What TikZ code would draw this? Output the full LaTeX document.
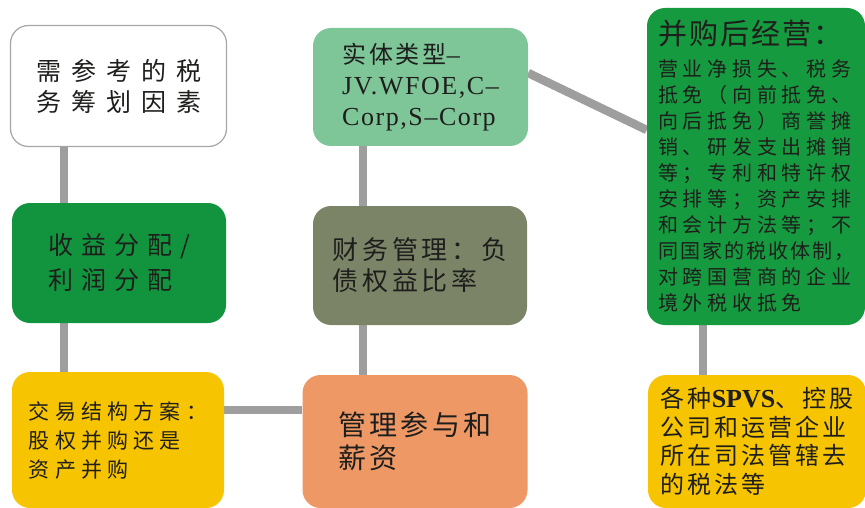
\documentclass[tikz,border=0pt]{standalone}
\usepackage{fontspec}
\setmainfont{Liberation Serif}
\newfontfamily\cjk{Noto Sans CJK SC}
\newcommand\lsp[1]{\addfontfeatures{LetterSpace=#1}}
\usetikzlibrary{backgrounds,calc}
\definecolor{cA}{RGB}{255,255,255}
\definecolor{cB}{RGB}{18,148,62}
\definecolor{cC}{RGB}{246,196,0}
\definecolor{cD}{RGB}{238,152,102}
\definecolor{cE}{RGB}{126,197,152}
\definecolor{cF}{RGB}{124,132,104}
\definecolor{cG}{RGB}{22,154,64}
\definecolor{link}{RGB}{158,158,158}
\definecolor{ink}{RGB}{30,30,28}
\tikzset{
  box/.style={rectangle, rounded corners=18pt, inner sep=0pt, align=left, text=ink},
  conn/.style={draw=link, line width=8.5pt}
}
\begin{document}
\begin{tikzpicture}[x=1pt,y=-1pt]
\useasboundingbox (0,0) rectangle (865,508);
% boxes
\node[box, draw=gray!70, line width=1.2pt, fill=cA, minimum width=216pt, minimum height=121pt,
  font=\cjk\fontsize{25}{31}\selectfont\lsp{40}] (A) at (118.5,86)
  {需参考的税\\务筹划因素};
\node[box, fill=cB, minimum width=214pt, minimum height=120pt,
  font=\cjk\fontsize{25}{35}\selectfont\lsp{32}] (B) at (119,263)
  {收益分配/\\利润分配};
\node[box, fill=cC, minimum width=212pt, minimum height=136pt,
  font=\cjk\fontsize{21}{29}\selectfont\lsp{25}] (C) at (118,440)
  {交易结构方案：\\股权并购还是\\资产并购};
\node[box, fill=cD, minimum width=225pt, minimum height=133pt,
  font=\cjk\fontsize{28}{33}\selectfont\lsp{11}] (D) at (415,441.5)
  {管理参与和\\薪资};
\node[box, fill=cE, minimum width=215pt, minimum height=118pt,
  font=\fontsize{26}{31}\selectfont] (E) at (420.5,87)
  {{\cjk\lsp{12}\fontsize{24}{31}\selectfont 实体类型}{\lsp{4}–}\\
   {\lsp{6}JV.WFOE,C–}\\{\lsp{6}Corp,S–Corp}};
\node[box, fill=cF, minimum width=214pt, minimum height=119pt,
  font=\cjk\fontsize{26}{31}\selectfont\lsp{15}] (F) at (420,265.5)
  {财务管理：负\\债权益比率};
\node[box, fill=cG, minimum width=218pt, minimum height=317pt,
  font=\cjk\fontsize{20}{26}\selectfont\lsp{24}] (G) at (756,166.5)
  {{\fontsize{29}{34}\selectfont\lsp{7}并购后经营：}\\[6pt]
   \fontsize{20}{26}\selectfont
   营业净损失、税务\\抵免（向前抵免、\\向后抵免）商誉摊\\销、研发支出摊销\\等；专利和特许权\\安排等；资产安排\\和会计方法等；不\\{\lsp{10}同国家的税收体制，}\\对跨国营商的企业\\境外税收抵免};
\node[box, fill=cC, minimum width=218pt, minimum height=133pt,
  font=\cjk\fontsize{24}{28.5}\selectfont\lsp{12}] (H) at (757,441.5)
  {各种{\rmfamily\bfseries\fontsize{26}{28.5}\selectfont SPVS}、控股\\公司和运营企业\\所在司法管辖去\\的税法等};
% connectors
\begin{pgfonlayer}{background}
\draw[conn] ($(A.south)+(-54.5,0)$) -- ($(B.north)+(-55,0)$);
\draw[conn] ($(B.south)+(-55,0)$) -- ($(C.north)+(-54,0)$);
\draw[conn] ($(C.east)+(0,-30)$) -- ($(D.west)+(0,-31.5)$);
\draw[conn] ($(D.north)+(-52,0)$) -- ($(F.south)+(-57,0)$);
\draw[conn] ($(F.north)+(-57,0)$) -- ($(E.south)+(-57.5,0)$);
\draw[conn] ($(E.east)+(0,-14)$) -- ($(G.west)+(0,-36.5)$);
\draw[conn] ($(G.south)+(-53,0)$) -- ($(H.north)+(-54,0)$);
\end{pgfonlayer}
\end{tikzpicture}
\end{document}
